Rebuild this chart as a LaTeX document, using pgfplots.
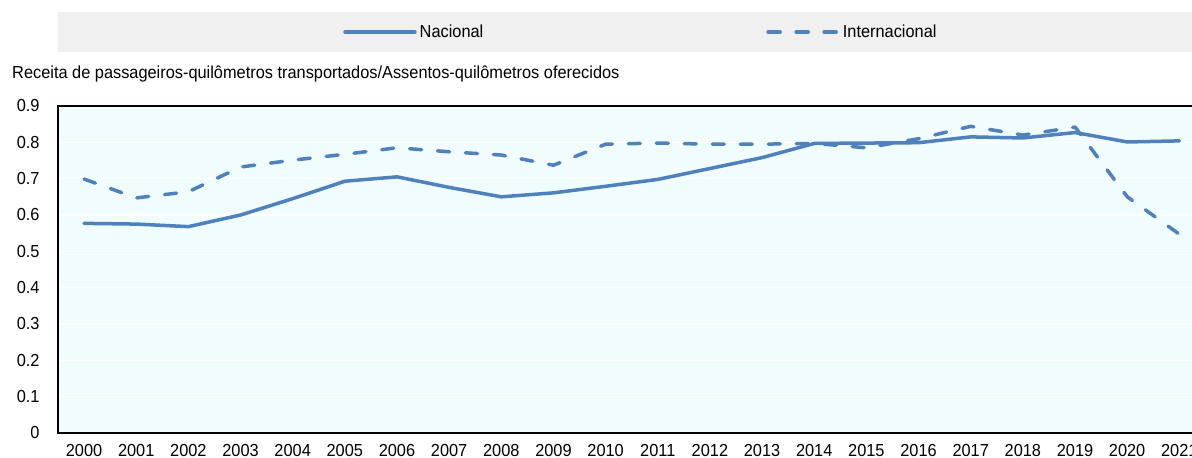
\documentclass[border=0pt]{standalone}
\usepackage{fontspec}
\setmainfont{Liberation Sans}[FakeStretch=0.94]
\usepackage{pgfplots}
\pgfplotsset{compat=1.18}
\definecolor{oecdblue}{RGB}{79,129,189}
\definecolor{bgcyan}{RGB}{240,252,254}
\definecolor{leggray}{RGB}{240,240,240}
\newcommand{\chartfont}{\fontsize{17.4}{20}\selectfont}
\begin{document}
\chartfont
\begin{tikzpicture}[x=1pt,y=1pt]
\useasboundingbox (0,0) rectangle (1192,458);
\clip (0,0) rectangle (1192,458);
\fill[leggray] (58,406) rectangle (1192,446);
\node[anchor=base west, inner sep=0pt, font=\chartfont] at (12,379) {Receita de passageiros-quilômetros transportados/Assentos-quilômetros oferecidos};
\begin{axis}[
  at={(58pt,25pt)}, anchor=south west, scale only axis,
  width=1147.5pt, height=327pt,
  xmin=1999.5, xmax=2021.5, ymin=0, ymax=0.9,
  axis background/.style={fill=bgcyan},
  axis line style={black, line width=1.5pt},
  xtick={2000,...,2021},
  ytick={0,0.1,0.2,0.3,0.4,0.5,0.6,0.7,0.8,0.9},
  /pgf/number format/1000 sep={},
  /pgf/number format/assume math mode=true,
  yticklabel style={/pgf/number format/fixed, /pgf/number format/precision=1, xshift=-12.5pt},
  xticklabel style={yshift=-5.5pt},
  every tick label/.append style={font=\chartfont},
  major tick length=0pt,
  minor x tick num=1,
  minor tick length=4pt,
  tick align=outside,
  minor tick style={black, line width=1.2pt},
  ymajorgrids=true, xminorgrids=true,
  major grid style={white, line width=1.2pt},
  minor grid style={white, line width=1.2pt},
  legend style={at={(axis description cs:0.2484,1.2263)}, anchor=west, draw=none, fill=none, inner sep=0pt,
    nodes={inner sep=0pt, font=\chartfont},
    /tikz/every odd column/.append style={column sep=3pt},
    /tikz/every even column/.append style={column sep=283pt}},
  legend columns=2,
  legend cell align=left,
  legend image code/.code={\draw[#1] (0pt,0pt) -- (70pt,0pt);},
]
\addplot[oecdblue, line width=3.5pt, line join=round, line cap=round] coordinates {
(2000,0.577) (2001,0.575) (2002,0.568) (2003,0.600) (2004,0.645) (2005,0.693)
(2006,0.705) (2007,0.676) (2008,0.650) (2009,0.661) (2010,0.679) (2011,0.698)
(2012,0.728) (2013,0.758) (2014,0.797) (2015,0.798) (2016,0.799) (2017,0.815)
(2018,0.812) (2019,0.827) (2020,0.801) (2021,0.804)};
\addlegendentry{Nacional}
\addplot[oecdblue, line width=3.5pt, line join=round, line cap=round, dash pattern=on 12pt off 16pt] coordinates {
(2000,0.699) (2001,0.647) (2002,0.664) (2003,0.732) (2004,0.751) (2005,0.767)
(2006,0.785) (2007,0.774) (2008,0.765) (2009,0.737) (2010,0.795) (2011,0.798)
(2012,0.795) (2013,0.795) (2014,0.797) (2015,0.785) (2016,0.810) (2017,0.844)
(2018,0.820) (2019,0.842) (2020,0.650) (2021,0.547)};
\addlegendentry{Internacional}
\end{axis}
\end{tikzpicture}
\end{document}
